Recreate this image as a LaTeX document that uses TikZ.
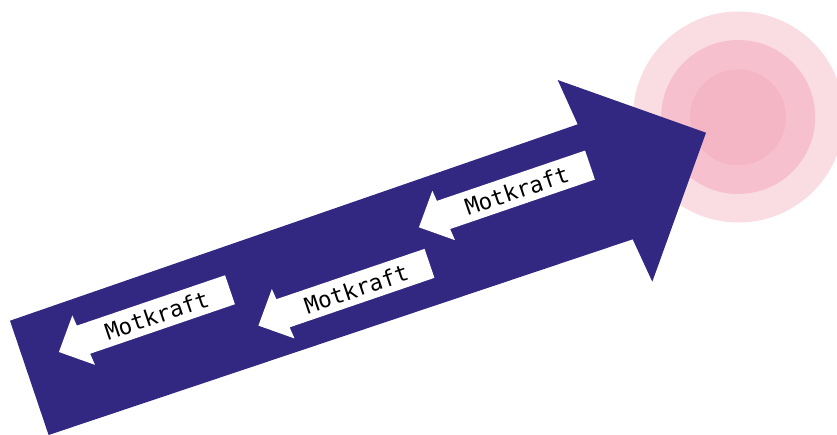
\documentclass[tikz,border=0pt]{standalone}
\usepackage{fontspec}
\newfontfamily\motfont{DejaVu Sans Mono}
\definecolor{bigpurple}{RGB}{50,40,130}
\definecolor{pinkA}{RGB}{250,221,227}
\definecolor{pinkB}{RGB}{247,192,206}
\definecolor{pinkC}{RGB}{244,182,196}
\tikzset{
  whitearrow/.style={fill=white, draw=none},
  motlabel/.style={font=\motfont\fontsize{22.4}{26}\selectfont, text=black, inner sep=0pt, rotate=18.8},
}
\newcommand{\motarrow}[3]{%
  \begin{scope}[shift={#1}, rotate=18.8]
    \fill[whitearrow] (0,3.8) -- (24.5,-26.5) -- (25.5,-15.4) -- (182,-15.3)
      -- (182,15.3) -- (29,15.5) -- (30,27.6) -- cycle;
    \node[motlabel] (#2) at (104.5,0.5) {#3};
  \end{scope}}
\begin{document}
\begin{tikzpicture}[x=1pt, y=-1pt]
  \useasboundingbox (0,0) rectangle (837,434);
  \clip (0,0) rectangle (837,434);
  % target circles
  \fill[pinkA] (738.5,117) circle (105.5);
  \fill[pinkB] (738.2,117) circle (77);
  \fill[pinkC] (738,117.3) circle (48);
  % big arrow
  \fill[bigpurple] (10,320.7) -- (577.7,124.3) -- (557.7,80) -- (706,132.7)
    -- (652.3,281.7) -- (632.7,239.3) -- (48.6,435) -- cycle;
  % counter-force arrows
  \motarrow{(57.7,348.4)}{mot1}{Motkraft}
  \motarrow{(257.2,322)}{mot2}{Motkraft}
  \motarrow{(417.7,223.7)}{mot3}{Motkraft}
\end{tikzpicture}
\end{document}
